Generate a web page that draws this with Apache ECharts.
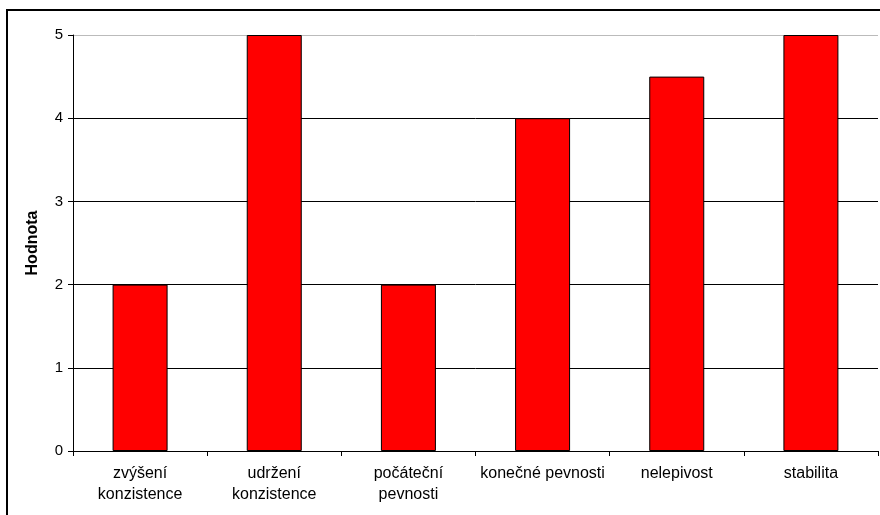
<!DOCTYPE html>
<html><head><meta charset="utf-8">
<script src="https://cdn.jsdelivr.net/npm/echarts@6/dist/echarts.min.js"></script>
<style>html,body{margin:0;padding:0;background:#fff}#c{width:880px;height:515px}</style>
</head><body><div id="c"></div>
<script>
const categories = ['zvýšení\nkonzistence', 'udržení\nkonzistence', 'počáteční\npevnosti', 'konečné pevnosti', 'nelepivost', 'stabilita'];
const values = [2, 5, 2, 4, 4.5, 5];
const yTicks = [0, 1, 2, 3, 4, 5];

const chart = echarts.init(document.getElementById('c'), null, {renderer: 'canvas'});
chart.setOption({
  animation: false,
  backgroundColor: '#fff',
  graphic: [{
    type: 'rect', shape: {x: 7, y: 10, width: 1000, height: 1000},
    style: {fill: 'none', stroke: '#000', lineWidth: 2}, silent: true, z: 100
  }],
  grid: {left: 73, right: 2, top: 35, bottom: 64, containLabel: false},
  xAxis: {
    type: 'category', data: categories,
    axisLine: {lineStyle: {color: '#000', width: 1}},
    axisTick: {show: true, alignWithLabel: false, length: 5, lineStyle: {color: '#000'}},
    axisLabel: {color: '#000', fontFamily: 'Arial, Liberation Sans', fontSize: 16, lineHeight: 21, margin: 12, interval: 0}
  },
  yAxis: {
    type: 'value', min: 0, max: 5, interval: 1,
    name: 'Hodnota', nameLocation: 'middle', nameGap: 32, nameRotate: 90,
    nameTextStyle: {color: '#000', fontFamily: 'Arial, Liberation Sans', fontSize: 16, fontWeight: 'bold'},
    axisLine: {show: true, lineStyle: {color: '#000'}},
    axisTick: {show: true, length: 5, lineStyle: {color: '#000'}},
    axisLabel: {color: '#000', fontFamily: 'Arial, Liberation Sans', fontSize: 15, margin: 10,
      formatter: v => yTicks.includes(v) ? String(v) : ''},
    splitLine: {show: true, lineStyle: {color: ['#000', '#000', '#000', '#000', '#000', '#bbb'], width: 1}}
  },
  series: [{
    type: 'bar', data: values, barWidth: '41%',
    itemStyle: {color: '#ff0000', borderColor: '#000', borderWidth: 1}
  }]
});
</script></body></html>
